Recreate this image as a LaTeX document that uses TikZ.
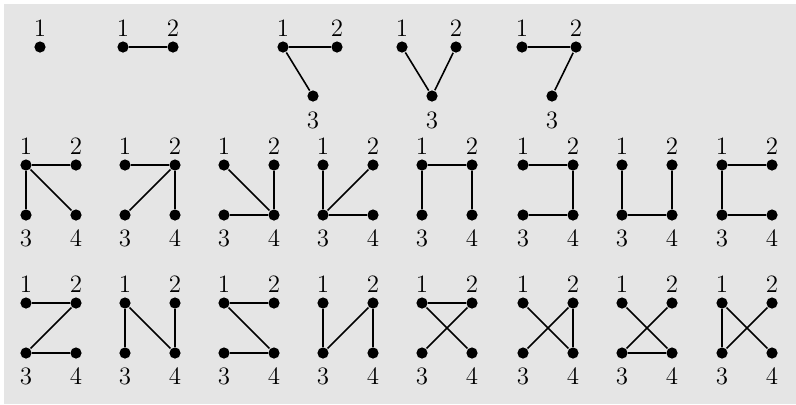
\documentclass[tikz,border=0pt]{standalone}
\usepackage{fontspec}
\usepackage{tikz}
\definecolor{panelgray}{RGB}{229,229,229}
\tikzset{
  vtx/.style={circle,fill=black,inner sep=0pt,minimum size=5.6pt},
  num/.style={inner sep=0pt,font=\fontsize{12.5}{14}\selectfont},
}

\begin{document}
\begin{tikzpicture}[x=0.5pt,y=-0.5pt,line width=0.8pt]
  \useasboundingbox (0,0) rectangle (796,404);
  \fill[panelgray] (4,4) rectangle (796,404);
  % one and two points
  \node[vtx] (s-1) at (40,47) {};
  \node[num,anchor=south] (s-1l) at (40,37) {1};
  \node[vtx] (p-1) at (123,47) {};
  \node[vtx] (p-2) at (173,47) {};
  \node[num,anchor=south] (p-1l) at (123,37) {1};
  \node[num,anchor=south] (p-2l) at (173,37) {2};
  \draw (p-1) -- (p-2);
  % three points
  \foreach \g/\x/\e in {a/283/{1/2,1/3}, b/402/{1/3,2/3}, c/522/{1/2,2/3}}{
    \node[vtx] (\g-1) at (\x,47) {};
    \node[vtx] (\g-2) at (\x+54,47) {};
    \node[vtx] (\g-3) at (\x+30,96) {};
    \node[num,anchor=south] (\g-1l) at (\x,37) {1};
    \node[num,anchor=south] (\g-2l) at (\x+54,37) {2};
    \node[num,anchor=north] (\g-3l) at (\x+30,111) {3};
    \foreach \i/\j in \e{
      \draw (\g-\i) -- (\g-\j);
    }
  }
  % four points
  \foreach \g/\x/\y/\e in {
      m1/26/165/{1/2,1/3,1/4}, m2/125/165/{1/2,2/3,2/4},
      m3/224/165/{1/4,2/4,3/4}, m4/323/165/{1/3,2/3,3/4},
      m5/422/165/{1/2,1/3,2/4}, m6/523/165/{1/2,2/4,3/4},
      m7/622/165/{1/3,3/4,2/4}, m8/722/165/{1/2,1/3,3/4},
      n1/26/303/{1/2,2/3,3/4}, n2/125/303/{1/3,1/4,2/4},
      n3/224/303/{1/2,1/4,3/4}, n4/323/303/{1/3,2/3,2/4},
      n5/422/303/{1/2,1/4,2/3}, n6/523/303/{1/4,2/3,2/4},
      n7/622/303/{1/4,2/3,3/4}, n8/722/303/{1/3,1/4,2/3}}{
    \node[vtx] (\g-1) at (\x,\y) {};
    \node[vtx] (\g-2) at (\x+50,\y) {};
    \node[vtx] (\g-3) at (\x,\y+50) {};
    \node[vtx] (\g-4) at (\x+50,\y+50) {};
    \node[num,anchor=south] (\g-1l) at (\x,\y-10) {1};
    \node[num,anchor=south] (\g-2l) at (\x+50,\y-10) {2};
    \node[num,anchor=north] (\g-3l) at (\x,\y+64) {3};
    \node[num,anchor=north] (\g-4l) at (\x+50,\y+64) {4};
    \foreach \i/\j in \e{
      \draw (\g-\i) -- (\g-\j);
    }
  }
\end{tikzpicture}
\end{document}
